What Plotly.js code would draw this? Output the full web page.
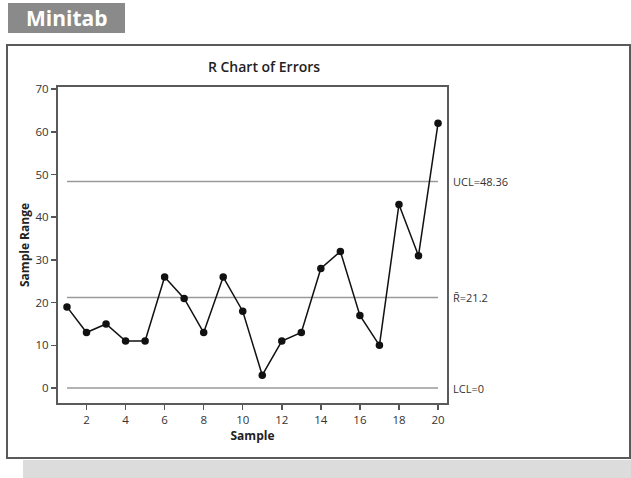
<!DOCTYPE html>
<html>
<head>
<meta charset="utf-8">
<script src="https://cdn.plot.ly/plotly-3.0.1.min.js"></script>
<style>html,body{margin:0;padding:0;background:#fff;}#chart{width:631px;height:478px;}</style>
</head>
<body>
<div id="chart"></div>
<script>
// ---- data ----
const samples = [1,2,3,4,5,6,7,8,9,10,11,12,13,14,15,16,17,18,19,20];
const ranges  = [19,13,15,11,11,26,21,13,26,18,3,11,13,28,32,17,10,43,31,62];
const limitNames  = ["UCL=48.36", "R\u0304=21.2", "LCL=0"];
const limitValues = [48.36, 21.2, 0];
const xTicks = [2,4,6,8,10,12,14,16,18,20];
const yTicks = [0,10,20,30,40,50,60,70];

// ---- layout helpers (pixel -> paper) ----
const W = 631, H = 478;
const L = 58, R = 447, T = 87, B = 403;
const px = v => (v - L) / (R - L);
const py = v => (B - v) / (B - T);

const font = "'Open Sans', 'Noto Sans', sans-serif";

const traces = [];
limitValues.forEach((v, i) => {
  traces.push({
    x: [samples[0], samples[samples.length - 1]],
    y: [v, v],
    mode: 'lines',
    line: {color: '#9a9a9a', width: 1.5},
    hoverinfo: 'skip',
    showlegend: false
  });
});
traces.push({
  x: samples, y: ranges,
  mode: 'lines+markers',
  line: {color: '#111', width: 1.5},
  marker: {color: '#111', size: 7.5},
  showlegend: false
});

const annotations = limitValues.map((v, i) => ({
  xref: 'paper', yref: 'y', x: px(451), y: v,
  xanchor: 'left', yanchor: 'middle', showarrow: false,
  text: limitNames[i], font: {family: font, size: 11, color: '#333'}
}));
annotations.push({
  xref: 'paper', yref: 'paper', x: px(66.5), y: py(18),
  xanchor: 'center', yanchor: 'middle', showarrow: false,
  text: '<b>Minitab</b>', font: {family: font, size: 21, color: '#fff'}
});

const shapes = [
  // gray shadow band
  {type: 'rect', xref: 'paper', yref: 'paper', layer: 'below',
   x0: px(23), x1: px(632), y0: py(460), y1: py(479),
   fillcolor: '#dcdcdc', line: {width: 0}},
  // outer frame
  {type: 'rect', xref: 'paper', yref: 'paper', layer: 'below',
   x0: px(7), x1: px(630), y0: py(458), y1: py(45),
   fillcolor: 'rgba(0,0,0,0)', line: {color: '#5a5a5a', width: 2}},
  // Minitab badge
  {type: 'rect', xref: 'paper', yref: 'paper', layer: 'below',
   x0: px(8), x1: px(125), y0: py(33), y1: py(3),
   fillcolor: '#8a8a8a', line: {width: 0}}
];

const layout = {
  width: W, height: H,
  margin: {l: L, r: W - R, t: T, b: H - B, pad: 0},
  paper_bgcolor: '#fff', plot_bgcolor: '#fff',
  title: {text: 'R Chart of Errors', xref: 'paper', x: px(264), xanchor: 'center',
          yref: 'container', y: 1 - 67 / H, yanchor: 'middle',
          font: {family: font, size: 14, weight: 600, color: '#222'}},
  xaxis: {range: [0.54, 20.46], tickvals: xTicks, ticks: 'outside', ticklen: 5,
          tickcolor: '#555', tickwidth: 1.5, showgrid: false, zeroline: false,
          showline: true, mirror: true, linecolor: '#5a5a5a', linewidth: 2,
          tickfont: {family: font, size: 11.5, color: '#333'},
          title: {text: '<b>Sample</b>', standoff: 6, font: {family: font, size: 12, color: '#222'}}},
  yaxis: {range: [-3.5, 70.5], tickvals: yTicks, ticks: 'outside', ticklen: 5,
          tickcolor: '#555', tickwidth: 1.5, showgrid: false, zeroline: false,
          showline: true, mirror: true, linecolor: '#5a5a5a', linewidth: 2,
          tickfont: {family: font, size: 11.5, color: '#333'},
          title: {text: '<b>Sample Range</b>', standoff: 3, font: {family: font, size: 12, color: '#222'}}},
  shapes: shapes,
  annotations: annotations,
  showlegend: false
};

Plotly.newPlot('chart', traces, layout, {staticPlot: true, displayModeBar: false});
</script>
</body>
</html>
